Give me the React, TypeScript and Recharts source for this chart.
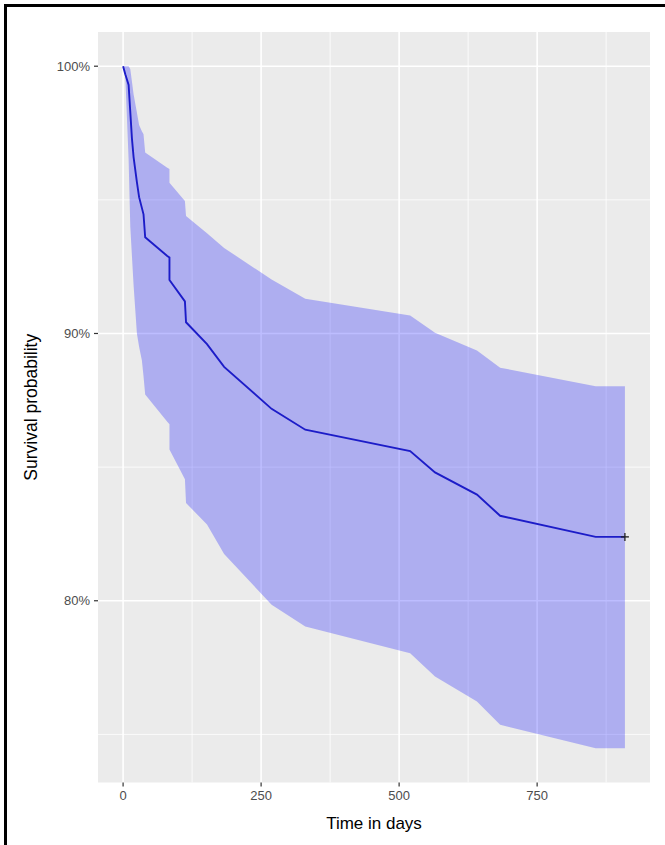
import React from 'react';
import { ComposedChart, Area, Line, Scatter, XAxis, YAxis, CartesianGrid, Label } from 'recharts';

// Kaplan-Meier estimate with 95% band
const times = [0, 4, 10, 13, 16, 19, 25, 29, 34, 37, 40, 80, 84, 84, 112, 114, 152, 183, 269, 330, 520, 565, 641, 683, 856, 909];
const survival = [100, 99.7, 99.3, 98.3, 97.3, 96.6, 95.66, 95.1, 94.7, 94.46, 93.6, 92.9, 92.84, 92.0, 91.2, 90.42, 89.6, 88.75, 87.18, 86.4, 85.6, 84.8, 83.97, 83.18, 82.39, 82.39];
const lowerCI = [100, 99.6, 96.5, 94.0, 92.9, 91.8, 90.0, 89.5, 89.0, 88.4, 87.72, 86.7, 86.6, 85.66, 84.55, 83.66, 82.85, 81.75, 79.85, 79.04, 78.04, 77.17, 76.23, 75.36, 74.48, 74.48];
const upperCI = [100, 100, 100, 99.9, 99.43, 98.95, 98.27, 97.8, 97.57, 97.45, 96.77, 96.2, 96.15, 95.64, 94.96, 94.4, 93.75, 93.2, 92.02, 91.3, 90.67, 90.03, 89.36, 88.72, 88.03, 88.03];

const censorTimes = [909];
const censorSurv = [82.39];

const xTicks = [0, 250, 500, 750];
const xMinor = [125, 375, 625, 875];
const yTicks = [80, 90, 100];
const yMinor = [75, 85, 95];

const data = times.map((t, i) => ({ time: t, surv: survival[i], band: [lowerCI[i], upperCI[i]] }));
const censored = censorTimes.map((t, i) => ({ time: t, surv: censorSurv[i] }));

const font = '"Liberation Sans", Arial, Helvetica, sans-serif';

const CensorMark = (props: any) => {
    const { cx, cy } = props;
    return (
        <g>
            <line x1={cx - 4} x2={cx + 4} y1={cy} y2={cy} stroke="#222" strokeWidth={1.3} />
            <line x1={cx} x2={cx} y1={cy - 4} y2={cy + 4} stroke="#222" strokeWidth={1.3} />
        </g>
    );
};

export default function App() {
    return (
        <div style={{ position: 'absolute', left: 0, top: 0, width: 665, height: 845, background: '#fff', fontFamily: font }}>
            <div style={{ position: 'absolute', left: 4, top: 4, right: 0, bottom: 0, borderTop: '3px solid #000', borderLeft: '3px solid #000' }} />
            <div style={{ position: 'absolute', left: 0, top: 0 }}>
                <ComposedChart width={665} height={845} data={data} margin={{ top: 32, right: 15, bottom: 0, left: 0 }}>
                    <CartesianGrid fill="#EBEBEB" stroke="#FFFFFF" strokeWidth={0.8} verticalValues={xMinor} horizontalValues={yMinor} />
                    <CartesianGrid stroke="#FFFFFF" strokeWidth={1.6} verticalValues={xTicks} horizontalValues={yTicks} />
                    <XAxis
                        dataKey="time"
                        type="number"
                        domain={[-45.45, 954.45]}
                        allowDataOverflow
                        ticks={xTicks}
                        axisLine={false}
                        tickSize={4}
                        tickMargin={4}
                        tickLine={{ stroke: '#333', strokeWidth: 1.2 }}
                        tick={{ fill: '#4D4D4D', fontSize: 13, fontFamily: font }}
                        height={62.5}
                    >
                        <Label
                            content={({ viewBox }: any) => (
                                <text x={viewBox.x + viewBox.width / 2} y={829} textAnchor="middle" fill="#000" fontSize={17} fontFamily={font}>
                                    Time in days
                                </text>
                            )}
                        />
                    </XAxis>
                    <YAxis
                        type="number"
                        domain={[73.2, 101.28]}
                        allowDataOverflow
                        ticks={yTicks}
                        axisLine={false}
                        tickSize={4}
                        tickMargin={4}
                        tickLine={{ stroke: '#333', strokeWidth: 1.2 }}
                        tick={{ fill: '#4D4D4D', fontSize: 13, fontFamily: font }}
                        tickFormatter={(v) => `${v}%`}
                        width={98}
                    >
                        <Label
                            content={({ viewBox }: any) => {
                                const cy = viewBox.y + viewBox.height / 2;
                                return (
                                    <text x={37} y={cy} transform={`rotate(-90, 37, ${cy})`} textAnchor="middle" fill="#000" fontSize={17.5} fontFamily={font}>
                                        Survival probability
                                    </text>
                                );
                            }}
                        />
                    </YAxis>
                    <Area
                        type="linear"
                        dataKey="band"
                        stroke="none"
                        fill="#0000FF"
                        fillOpacity={0.26}
                        isAnimationActive={false}
                    />
                    <Line
                        type="linear"
                        dataKey="surv"
                        stroke="#1C1CC8"
                        strokeWidth={1.9}
                        dot={false}
                        isAnimationActive={false}
                    />
                    <Scatter data={censored} dataKey="surv" shape={<CensorMark />} isAnimationActive={false} />
                </ComposedChart>
            </div>
        </div>
    );
}
